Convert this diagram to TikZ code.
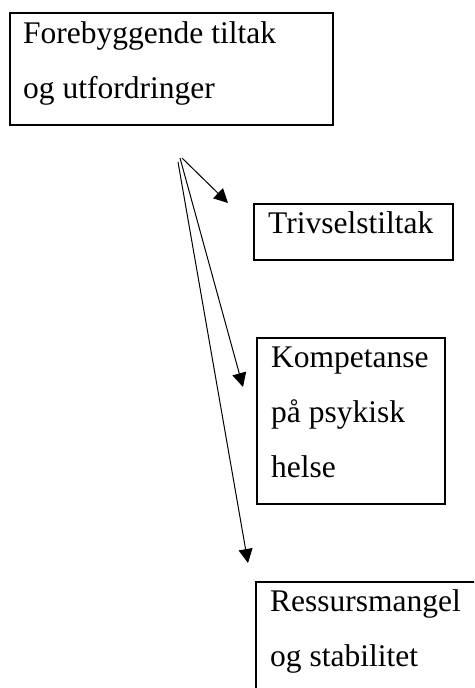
\documentclass[tikz,border=0pt]{standalone}
\usepackage{fontspec}
\setmainfont{Liberation Serif}
\usetikzlibrary{arrows.meta}
\begin{document}
\begin{tikzpicture}[x=1pt,y=-1pt,
  box/.style={draw, line width=2pt, inner sep=0pt, anchor=north west},
  lbl/.style={font=\fontsize{31.5}{55}\selectfont, anchor=base west, inner sep=0pt, align=left},
  arr/.style={line width=1pt, -{Triangle[length=14pt,width=14pt]}}]
\useasboundingbox (0,0) rectangle (474,688);
\clip (0,0) rectangle (474,688);
% boxes
\node[box, minimum width=323pt, minimum height=112pt] (b1) at (9,12) {};
\node[box, minimum width=199pt, minimum height=56pt] (b2) at (253,203) {};
\node[box, minimum width=188pt, minimum height=166pt] (b3) at (256,337) {};
\node[box, minimum width=240pt, minimum height=130pt] (b4) at (255,581) {};
% texts (anchored at the baseline of the last line)
\node[lbl] (t1) at (23,98) {Forebyggende tiltak\\og utfordringer};
\node[lbl] (t2) at (268,233) {Trivselstiltak};
\node[lbl] (t3) at (271,477) {Kompetanse\\på psykisk\\helse};
\node[lbl] (t4) at (270,666) {Ressursmangel\\og stabilitet};
% arrows
\coordinate (s1) at (182,158);
\coordinate (e1) at (228,203);
\coordinate (s2) at (180,158);
\coordinate (e2) at (243,387);
\coordinate (s3) at (178,162);
\coordinate (e3) at (248,563);
\draw[arr] (s1) -- (e1);
\draw[arr] (s2) -- (e2);
\draw[arr] (s3) -- (e3);
\end{tikzpicture}
\end{document}
